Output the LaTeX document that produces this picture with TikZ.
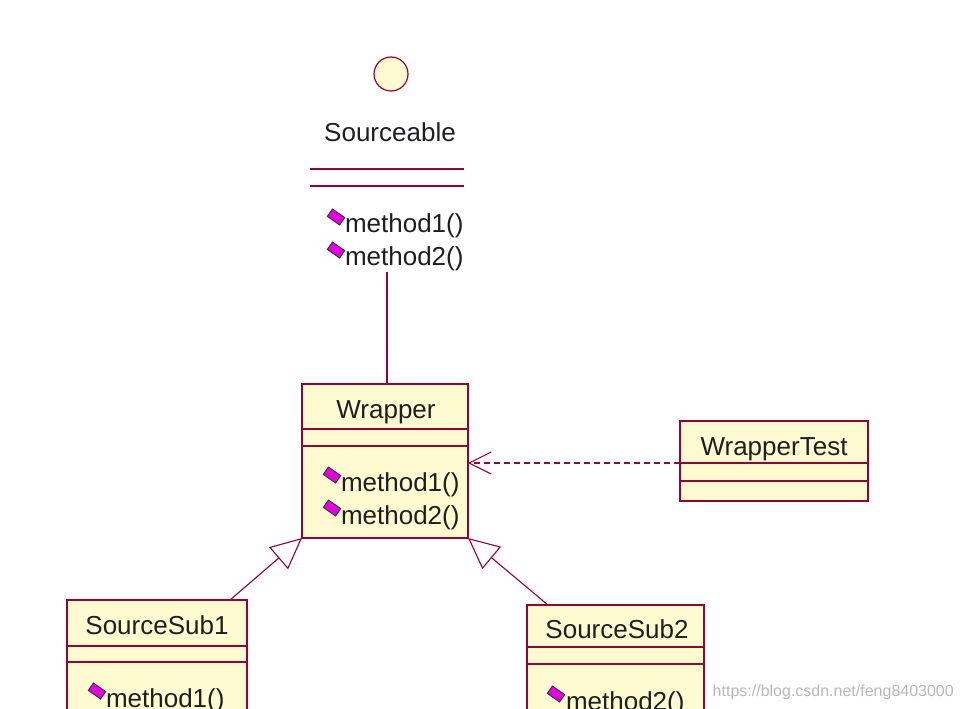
\documentclass[tikz,border=0pt]{standalone}
\usepackage{fontspec}
\newfontfamily\umlfont{Liberation Sans}
\usetikzlibrary{arrows.meta}
\definecolor{umlred}{RGB}{153,0,51}
\definecolor{umlfill}{RGB}{255,251,208}
\definecolor{umltext}{RGB}{30,30,35}
\definecolor{iconfill}{RGB}{230,0,230}
\tikzset{
  cls/.style={rectangle, draw=umlred, fill=umlfill, line width=1.2pt, inner sep=0pt, outer sep=0pt, anchor=north west},
  sepline/.style={draw=umlred, line width=1.2pt},
  txt/.style={font=\umlfont\fontsize{26}{30}\selectfont, text=umltext, inner sep=0pt, outer sep=0pt},
  title/.style={txt, anchor=base},
  meth/.style={txt, anchor=base west},
  icon/.style={rectangle, draw=black!80, fill=iconfill, minimum width=15pt, minimum height=9pt, inner sep=0pt, rotate=-35, line width=0.9pt},
  conn/.style={draw=umlred, line width=1.1pt},
  gen/.style={conn, -{Triangle[open, length=31pt, width=29pt, line width=1.1pt]}},
  dep/.style={conn, dash pattern=on 6pt off 4pt, -{Straight Barb[length=22pt, width=22pt, line width=1.1pt]}},
}
\begin{document}
\begin{tikzpicture}[x=1pt, y=-1pt]
\useasboundingbox (0,0) rectangle (969,709);
\clip (0,0) rectangle (969,709);
\fill[white] (0,0) rectangle (969,709);

% Sourceable interface
\node[circle, draw=umlred, fill=umlfill, line width=1.2pt, minimum size=34pt, inner sep=0pt] (iface) at (391,74) {};
\node[title] (srcname) at (390,141) {Sourceable};
\draw[sepline] (310,169) -- (464,169);
\draw[sepline] (310,186) -- (464,186);
\node[icon] (srci1) at (336,217) {};
\node[meth] (srcm1) at (345,232) {method1()};
\node[icon] (srci2) at (336,250) {};
\node[meth] (srcm2) at (345,265) {method2()};

% Wrapper
\node[cls, minimum width=166pt, minimum height=154pt] (wrapper) at (302,384) {};
\draw[sepline] (302,429) -- (468,429);
\draw[sepline] (302,446) -- (468,446);
\node[title] (wrapname) at (386,418) {Wrapper};
\node[icon] (wri1) at (332,475) {};
\node[meth] (wrm1) at (341,491) {method1()};
\node[icon] (wri2) at (332,508) {};
\node[meth] (wrm2) at (341,524) {method2()};

% WrapperTest
\node[cls, minimum width=188pt, minimum height=80pt] (wt) at (680,421) {};
\draw[sepline] (680,463) -- (868,463);
\draw[sepline] (680,481) -- (868,481);
\node[title] (wtname) at (774,455) {WrapperTest};

% SourceSub1
\node[cls, minimum width=180pt, minimum height=140pt] (s1) at (67,600) {};
\draw[sepline] (67,646) -- (247,646);
\draw[sepline] (67,662) -- (247,662);
\node[title] (s1name) at (157,634) {SourceSub1};
\node[icon] (s1i1) at (97,691) {};
\node[meth] (s1m1) at (106,707) {method1()};

% SourceSub2
\node[cls, minimum width=177pt, minimum height=140pt] (s2) at (527,605) {};
\draw[sepline] (527,647) -- (704,647);
\draw[sepline] (527,664) -- (704,664);
\node[title] (s2name) at (617,638) {SourceSub2};
\node[icon] (s2i1) at (556,694) {};
\node[meth] (s2m1) at (566,710) {method2()};

% connectors
\coordinate (srcend) at (387,272);
\draw[conn] (srcend) -- (srcend |- wrapper.north);
\coordinate (depstart) at (680,463);
\draw[dep] (depstart) -- (depstart -| wrapper.east);
\coordinate (g1) at (230,600);
\draw[gen] (g1) -- (wrapper.south west);
\coordinate (g2) at (548,605);
\draw[gen] (g2) -- (wrapper.south east);

% watermark
\node[anchor=base east, inner sep=0pt, text=black!28, font=\umlfont\fontsize{16}{18}\selectfont] (wm) at (954,696) {https://blog.csdn.net/feng8403000};
\end{tikzpicture}
\end{document}
